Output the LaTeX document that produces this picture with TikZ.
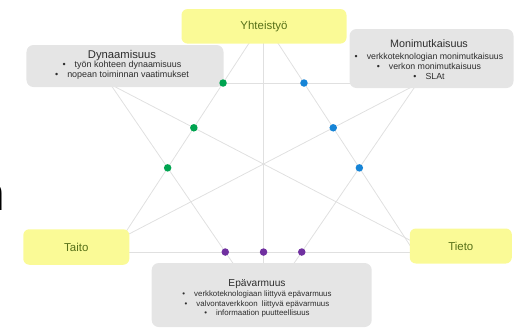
\documentclass[tikz,border=0pt]{standalone}
\usepackage{fontspec}
\setmainfont{Liberation Sans}
\usetikzlibrary{positioning}
\definecolor{keyfill}{RGB}{250,250,150}
\definecolor{keytext}{RGB}{86,112,24}
\definecolor{infofill}{RGB}{229,229,229}
\definecolor{infotext}{RGB}{45,45,45}
\definecolor{linegray}{RGB}{224,224,224}
\definecolor{dotgreen}{RGB}{0,164,80}
\definecolor{dotblue}{RGB}{22,132,214}
\definecolor{dotpurple}{RGB}{112,48,160}
\newcommand{\itemdot}{\textbullet\hspace{9bp}}

\begin{document}
\begin{tikzpicture}[x=1bp,y=-1bp,
    link/.style={draw=linegray,line width=0.8bp},
    key node/.style={rounded corners=6bp,fill=keyfill,text=keytext,inner sep=0pt,font=\fontsize{11.5}{13}\selectfont},
    info node/.style={rounded corners=7bp,fill=infofill,inner sep=0pt},
    info text/.style={align=center,text=infotext,inner sep=0pt,anchor=north},
    small node/.style={circle,inner sep=0pt,minimum size=7.5bp}]
  \useasboundingbox (0,0) rectangle (515,329);
  % ends of the links, hidden behind the boxes
  \coordinate (apex) at (263.5,21);
  \coordinate (taitoA) at (116,247);
  \coordinate (tietoA) at (411,247);
  \coordinate (taitoB) at (120,252);
  \coordinate (tietoB) at (420,252);
  \coordinate (dynR) at (215,83);
  \coordinate (monL) at (360,83);
  \coordinate (dynA) at (102,80);
  \coordinate (tietoC) at (423,247);
  \coordinate (monA) at (425,80);
  \coordinate (taitoC) at (104,247);
  \coordinate (dynB) at (107.5,80);
  \coordinate (epaA) at (241,275);
  \coordinate (monB) at (419.5,80);
  \coordinate (epaB) at (286,275);
  \coordinate (yhtB) at (263.5,30);
  \coordinate (epaC) at (263.5,280);
  \path[link] (apex) edge (taitoA);
  \path[link] (apex) edge (tietoA);
  \path[link] (taitoB) edge (tietoB);
  \path[link] (dynR) edge (monL);
  \path[link] (dynA) edge (tietoC);
  \path[link] (monA) edge (taitoC);
  \path[link] (dynB) edge (epaA);
  \path[link] (monB) edge (epaB);
  \path[link] (yhtB) edge (epaC);
  % boxes
  \node[key node,minimum width=165bp,minimum height=34.5bp] (yht) at (264,26.3) {Yhteistyö};
  \node[key node,minimum width=106bp,minimum height=35.5bp] (taito) at (76.3,247) {Taito};
  \node[key node,minimum width=102bp,minimum height=35bp] (tieto) at (460.8,246) {Tieto};
  \node[info node,minimum width=197bp,minimum height=42bp] (dyn) at (125,66) {};
  \node[info node,minimum width=164bp,minimum height=59bp] (mon) at (431.5,58.5) {};
  \node[info node,minimum width=220bp,minimum height=64bp] (epa) at (261.7,295) {};
  \node[info text,font=\fontsize{9}{9.6}\selectfont] (dyntext) at (122,50) {{\fontsize{11.3}{12}\selectfont Dynaamisuus}\\
    \itemdot työn kohteen dynaamisuus\\
    \itemdot nopean toiminnan vaatimukset};
  \node[info text,font=\fontsize{8.8}{10.3}\selectfont] (montext) at (429,39.4) {{\fontsize{10.8}{12}\selectfont Monimutkaisuus}\\[1.5bp]
    \itemdot verkkoteknologian monimutkaisuus\\
    \itemdot verkon monimutkaisuus\\
    \itemdot SLAt};
  \node[info text,font=\fontsize{7.9}{9.8}\selectfont] (epatext) at (257,279.5) {{\fontsize{10.2}{12}\selectfont Epävarmuus}\\
    \itemdot verkkoteknologiaan liittyvä epävarmuus\\
    \itemdot valvontaverkkoon\hspace{2bp} liittyvä epävarmuus\\
    \itemdot informaation puutteellisuus};
  % dots where the links cross
  \node[small node,fill=dotgreen] (g1) at (intersection of apex--taitoA and dynR--monL) {};
  \node[small node,fill=dotgreen] (g2) at (intersection of apex--taitoA and dynA--tietoC) {};
  \node[small node,fill=dotgreen] (g3) at (intersection of apex--taitoA and dynB--epaA) {};
  \node[small node,fill=dotblue] (b1) at (intersection of apex--tietoA and dynR--monL) {};
  \node[small node,fill=dotblue] (b2) at (intersection of apex--tietoA and monA--taitoC) {};
  \node[small node,fill=dotblue] (b3) at (intersection of apex--tietoA and monB--epaB) {};
  \node[small node,fill=dotpurple] (p1) at (intersection of taitoB--tietoB and dynB--epaA) {};
  \node[small node,fill=dotpurple] (p2) at (intersection of taitoB--tietoB and yhtB--epaC) {};
  \node[small node,fill=dotpurple] (p3) at (intersection of taitoB--tietoB and monB--epaB) {};
  % cut-off letter at the left edge
  \node[anchor=base west,inner sep=0pt,font=\fontsize{48}{48}\selectfont] (cut) at (-21.5,210) {n};
\end{tikzpicture}
\end{document}
